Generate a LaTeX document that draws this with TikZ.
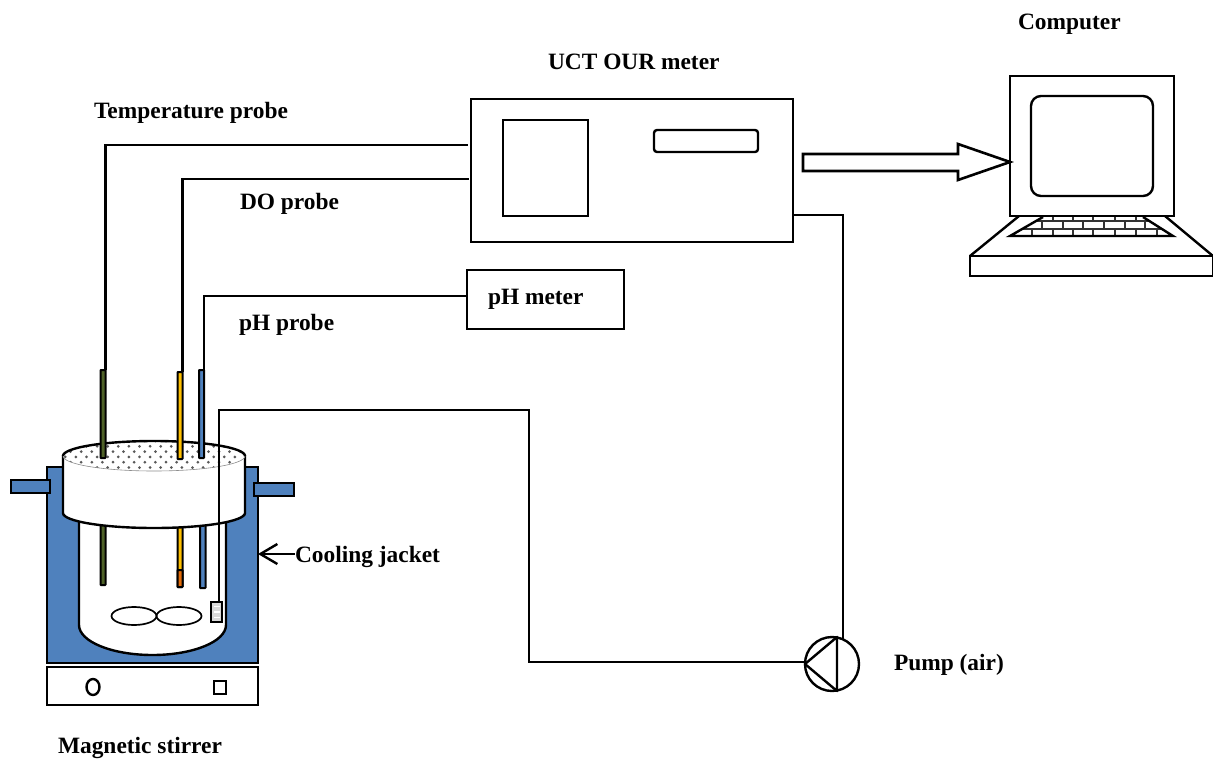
\documentclass[tikz,border=0pt]{standalone}
\usepackage{fontspec}
\setmainfont{Liberation Serif}
\usetikzlibrary{arrows.meta,shapes.geometric,calc}
\definecolor{jacketblue}{HTML}{4F81BD}
\definecolor{probegreen}{HTML}{4F6228}
\definecolor{probeyellow}{HTML}{FFC000}
\definecolor{probeorange}{HTML}{E36C09}
\tikzset{
  rbx/.style={draw=black,rectangle,inner sep=0pt,outer sep=0pt},
  lw/.style={line width=2.4pt},
  wire/.style={draw=black,line width=2.4pt,line join=miter},
  lbl/.style={font=\fontsize{23.4}{26}\selectfont\bfseries,inner sep=0pt,outer sep=0pt,anchor=base west},
  probe/.style={rbx,line width=2pt,rounded corners=0.5pt},
}
% \rbox{style}{name}{x1}{y1}{x2}{y2}
\newcommand{\rbox}[6]{%
  \pgfmathsetmacro{\wdv}{#5-#3}\pgfmathsetmacro{\htv}{#6-#4}%
  \pgfmathsetmacro{\cxv}{(#3+#5)/2}\pgfmathsetmacro{\cyv}{(#4+#6)/2}%
  \node[rbx,#1,minimum width=\wdv pt,minimum height=\htv pt] (#2) at (\cxv,\cyv) {};%
}
\begin{document}
\begin{tikzpicture}[x=1pt,y=-1pt]
\useasboundingbox (0,0) rectangle (1213,758);
% stirrer
\rbox{lw,fill=white}{stirrer}{47}{667}{258}{705}
\node[draw,lw,ellipse,minimum width=13pt,minimum height=16pt,inner sep=0pt] (knob) at (93,687) {};
\rbox{lw}{switch}{214}{681}{226}{694}
% jacket
\rbox{lw,fill=jacketblue}{jacket}{47}{467}{258}{663}
\rbox{lw,fill=jacketblue,line width=2.6pt}{pipeL}{11}{480}{50}{493}
\rbox{lw,fill=jacketblue,line width=2.6pt}{pipeR}{254}{483}{294}{496}
% vessel
\draw[lw,fill=white] (79,510) -- (79,625) arc[start angle=180,end angle=360,x radius=73.5pt,y radius=30pt] -- (226,510) -- cycle;
% lower probes
\rbox{probe,fill=probegreen}{tlow}{100.5}{520}{105.5}{585}
\rbox{probe,fill=probeyellow}{dlow}{177.5}{520}{182.5}{587}
\rbox{probe,fill=probeorange}{dtip}{177.5}{570}{182.5}{587}
\rbox{probe,fill=jacketblue}{plow}{200}{520}{205.5}{588}
% impellers
\node[draw,line width=1.7pt,ellipse,minimum width=45pt,minimum height=18pt,inner sep=0pt] (impL) at (134,616) {};
\node[draw,line width=1.7pt,ellipse,minimum width=45pt,minimum height=18pt,inner sep=0pt] (impR) at (179,616) {};
% lid
\draw[lw,fill=white] (63,456) -- (63,513) arc[start angle=180,end angle=360,x radius=91pt,y radius=15pt] -- (245,456) -- cycle;
\fill[white] (154,456) ellipse[x radius=91pt,y radius=15pt];
\begin{scope}
  \clip (154,456) ellipse[x radius=91pt,y radius=15pt];
  \foreach \r in {0,...,5}{
    \pgfmathsetmacro{\yy}{441+5.3*\r}
    \pgfmathsetmacro{\off}{mod(\r,2)*5.3}
    \foreach \c in {0,...,18}{
      \fill[black!65] ({60+\off+\c*10.6},\yy) circle[radius=1.5pt];
    }
  }
\end{scope}
\draw[black!45,line width=0.6pt] (154,456) ellipse[x radius=91pt,y radius=15pt];
\draw[lw] (63,456) arc[start angle=180,end angle=0,x radius=91pt,y radius=15pt];
% upper probes
\rbox{probe,fill=probegreen}{tprobe}{100.5}{370}{105.5}{458}
\rbox{probe,fill=probeyellow}{dprobe}{177.5}{372}{182.5}{459}
\rbox{probe,fill=jacketblue}{pprobe}{199}{370}{204}{458}
% meters
\rbox{lw}{uct}{471}{99}{793}{242}
\rbox{lw}{uctpanel}{503}{120}{588}{216}
\rbox{lw,rounded corners=3pt}{uctdisplay}{654}{130}{758}{152}
\rbox{lw}{phmeter}{467}{270}{624}{329}
% pump
\node[draw,lw,circle,minimum size=54pt,inner sep=0pt,outer sep=0pt] (pump) at (832,664) {};
\coordinate (pA) at (837,637); \coordinate (pB) at (837,691); \coordinate (pC) at (805,664);
\draw[lw,line join=round] (pA) -- (pB) -- (pC) -- cycle;
% air box and tube
\rbox{lw,fill=black!15}{airbox}{211}{602}{222}{622}
\foreach \yy in {606.5,612,617.5}{\draw[white,line width=1.8pt] (213.5,\yy) -- (219.5,\yy);}
\coordinate (airA) at (529,410);
\coordinate (airB) at (529,662);
\draw[wire] (219,602) |- (airA) -- (airB) -- (pump.west|-airB);
% probe wires
\draw[wire] (tprobe.north east) |- ([xshift=-3pt,yshift=25.5pt]uct.west);
\draw[wire] (dprobe.north east) |- ([xshift=-2pt,yshift=-8.5pt]uct.west);
\draw[wire] (pprobe.north east) |- ([yshift=3.5pt]phmeter.west);
\draw[wire] (pump.66) |- ([yshift=-44.5pt]uct.east);
% output arrow
\draw[line width=2.6pt,miter limit=10] (803,154) -- (958,154) -- (958,144) -- (1010,162) -- (958,180) -- (958,171) -- (803,171) -- cycle;
% computer
\rbox{lw}{monitor}{1010}{76}{1174}{216}
\rbox{lw,rounded corners=10pt}{screen}{1031}{96}{1153}{196}
\rbox{lw}{base}{970}{256}{1213}{276}
\draw[lw] (1019,216) -- (970,256);
\draw[lw] (1165,216) -- (1213,256);
\begin{scope}
  \clip (1043,217) -- (1143,217) -- (1173,236) -- (1010,236) -- cycle;
  \draw[black!80,line width=2pt] (1000,220.5) -- (1180,220.5) (1000,229) -- (1180,229);
  \foreach \x in {1042,1063,1083,1104,1125,1145}{\draw[black!80,line width=2pt] (\x,220) -- (\x,229);}
  \foreach \x in {1032,1053,1073,1093,1115,1136,1157}{\draw[black!80,line width=2pt] (\x,229) -- (\x,236);}
  \foreach \x in {1053,1073,1093,1115,1136}{\draw[black!80,line width=2pt] (\x,217) -- (\x,220);}
\end{scope}
\draw[lw] (1043,217) -- (1010,236) -- (1173,236) -- (1143,217);
% labels
\node[lbl] (computerL) at (1018,29) {Computer};
\node[lbl] (uctL) at (548,69) {UCT OUR meter};
\node[lbl] (tempL) at (94,118) {Temperature probe};
\node[lbl] (doL) at (240,209) {DO probe};
\node[lbl] (phL) at (239,330) {pH probe};
\node[lbl] (phmL) at (488,304) {pH meter};
\node[lbl] (coolL) at (295,562) {Cooling jacket};
\node[lbl] (pumpL) at (894,670) {Pump (air)};
\node[lbl] (stirL) at (58,753) {Magnetic stirrer};
\draw[lw,-{Straight Barb[length=17pt,width=20pt,line width=2.4pt]}] (coolL.west|-0,554) -- (jacket.east|-0,554);
\end{tikzpicture}
\end{document}
